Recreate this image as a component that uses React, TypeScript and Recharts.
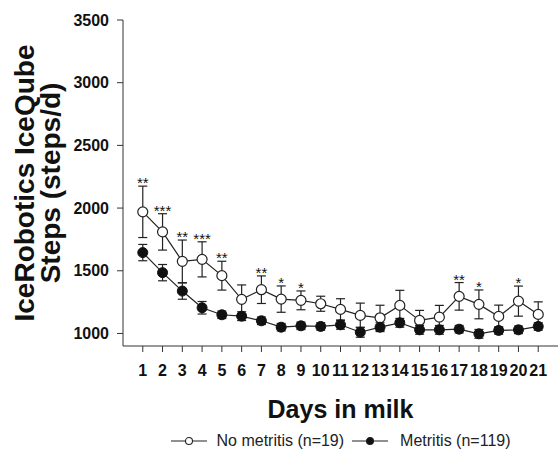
import React from "react";
import { LineChart, Line, XAxis, YAxis, ErrorBar, LabelList, Legend } from "recharts";

const days = [1, 2, 3, 4, 5, 6, 7, 8, 9, 10, 11, 12, 13, 14, 15, 16, 17, 18, 19, 20, 21];
const noMetritis = [1970, 1810, 1575, 1591, 1461, 1272, 1349, 1274, 1264, 1237, 1192, 1144, 1125, 1224, 1104, 1130, 1296, 1232, 1136, 1258, 1152];
const noMetritisSe = [205, 145, 170, 140, 115, 115, 110, 105, 75, 60, 85, 98, 100, 120, 80, 94, 110, 115, 90, 120, 100];
const metritis = [1645, 1485, 1338, 1205, 1149, 1138, 1101, 1050, 1061, 1056, 1069, 1010, 1050, 1085, 1029, 1029, 1034, 997, 1024, 1029, 1056];
const metritisSe = [65, 65, 65, 50, 30, 35, 30, 30, 30, 30, 35, 40, 35, 35, 35, 35, 30, 35, 30, 30, 30];
const stars = ["**", "***", "**", "***", "**", "", "**", "*", "*", "", "", "", "", "", "", "", "**", "*", "", "*", ""];
const yTicks = [1000, 1500, 2000, 2500, 3000, 3500];

const FONT = "'Liberation Sans', Arial, sans-serif";
const INK = "#222";

const data = days.map((day, i) => ({
  day,
  noMet: noMetritis[i],
  noMetSe: noMetritisSe[i],
  noMetTop: noMetritis[i] + noMetritisSe[i],
  met: metritis[i],
  metSe: metritisSe[i],
  stars: stars[i],
}));

const YLabel = ({ viewBox }: any) => {
  const cy = viewBox.y + viewBox.height / 2;
  const x1 = viewBox.x + 34;
  const x2 = viewBox.x + 60;
  const style = { fontFamily: FONT, fontSize: 28, fontWeight: 700, fill: "#111" };
  return (
    <g>
      <text x={x1} y={cy} transform={`rotate(-90, ${x1}, ${cy})`} textAnchor="middle" style={style}>
        IceRobotics IceQube
      </text>
      <text x={x2} y={cy} transform={`rotate(-90, ${x2}, ${cy})`} textAnchor="middle" style={style}>
        Steps (steps/d)
      </text>
    </g>
  );
};

const XLabel = ({ viewBox }: any) => (
  <text
    x={viewBox.x + viewBox.width / 2}
    y={viewBox.y + 72}
    textAnchor="middle"
    style={{ fontFamily: FONT, fontSize: 25, fontWeight: 700, fill: "#111" }}
  >
    Days in milk
  </text>
);

const StarLabel = (props: any) => {
  const { x, y, value } = props;
  if (!value) return null;
  return (
    <text x={x} y={y + 2} textAnchor="middle" fill="#111" style={{ fontFamily: FONT, fontSize: 15 }}>
      {value}
    </text>
  );
};

const LegendIcon = ({ filled }: { filled: boolean }) => (
  <svg width={36} height={12} style={{ display: "block" }}>
    <line x1={0} y1={6} x2={36} y2={6} stroke={INK} strokeWidth={1.2} />
    <circle cx={18} cy={6} r={3.5} fill={filled ? "#111" : "#fff"} stroke={INK} strokeWidth={1.1} />
  </svg>
);

const CustomLegend = () => (
  <div
    style={{
      height: 24,
      display: "flex",
      alignItems: "center",
      justifyContent: "center",
      fontFamily: FONT,
      fontSize: 16,
      color: "#222",
    }}
  >
    <LegendIcon filled={false} />
    <span style={{ marginLeft: 10, marginRight: 8 }}>No metritis (n=19)</span>
    <LegendIcon filled={true} />
    <span style={{ marginLeft: 12 }}>Metritis (n=119)</span>
  </div>
);

export default function App() {
  return (
    <div style={{ position: "absolute", left: 0, top: 0, background: "#fff" }}>
      <LineChart width={558} height={453} data={data} margin={{ top: 20, right: 0, bottom: 0, left: 0 }}>
        <XAxis
          dataKey="day"
          type="number"
          domain={[0, 22]}
          ticks={days}
          interval={0}
          height={83}
          tickSize={6}
          tickMargin={13}
          stroke="#333"
          tick={{ fontFamily: FONT, fontSize: 16, fontWeight: 700, fill: "#111" }}
          label={<XLabel />}
        />
        <YAxis
          type="number"
          domain={[900, 3500]}
          ticks={yTicks}
          width={123}
          tickSize={6}
          tickMargin={8}
          stroke="#333"
          allowDataOverflow
          tick={{ fontFamily: FONT, fontSize: 16, fontWeight: 700, fill: "#111" }}
          label={<YLabel />}
        />
        <Legend
          verticalAlign="bottom"
          content={<CustomLegend />}
          wrapperStyle={{ left: 123, width: 435, bottom: 0 }}
        />
        <Line
          dataKey="noMet"
          stroke={INK}
          strokeWidth={1.2}
          isAnimationActive={false}
          dot={{ r: 5, fill: "#fff", stroke: INK, strokeWidth: 1.2 }}
          activeDot={false}
        >
          <ErrorBar dataKey="noMetSe" direction="y" width={4.5} stroke={INK} strokeWidth={1.2} />
        </Line>
        <Line
          dataKey="met"
          stroke={INK}
          strokeWidth={1.2}
          isAnimationActive={false}
          dot={{ r: 5, fill: "#111", stroke: "#111", strokeWidth: 1 }}
          activeDot={false}
        >
          <ErrorBar dataKey="metSe" direction="y" width={4.5} stroke={INK} strokeWidth={1.2} />
        </Line>
        <Line
          dataKey="noMetTop"
          stroke="none"
          dot={false}
          activeDot={false}
          legendType="none"
          isAnimationActive={false}
        >
          <LabelList dataKey="stars" content={<StarLabel />} />
        </Line>
      </LineChart>
    </div>
  );
}
